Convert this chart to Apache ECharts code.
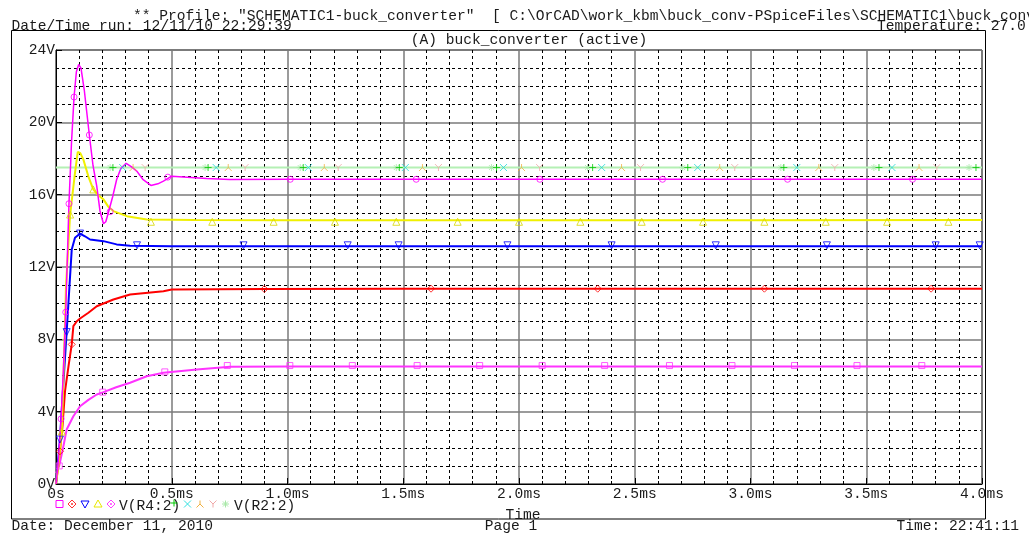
<!DOCTYPE html>
<html>
<head>
<meta charset="utf-8">
<title>buck_converter</title>
<script src="https://cdn.jsdelivr.net/npm/echarts@6/dist/echarts.min.js"></script>
<style>
  html, body { margin: 0; padding: 0; background: #fff; }
  #chart { width: 1029px; height: 536px; }
</style>
</head>
<body>
<div id="chart"></div>
<script>
// tick labels
var xTickLabels = ["0s", "0.5ms", "1.0ms", "1.5ms", "2.0ms", "2.5ms", "3.0ms", "3.5ms", "4.0ms"];
var yTickLabels = ["0V", "4V", "8V", "12V", "16V", "20V", "24V"];

// traces, [time ms, volts]
var traceMagentaHigh = [
  [0, 0], [0.01, 1.2], [0.022, 3.6], [0.032, 6.3], [0.042, 9.5], [0.056, 15.5], [0.067, 18.9],
  [0.078, 21.4], [0.088, 22.8], [0.098, 23.2], [0.108, 23.0], [0.122, 21.8], [0.144, 19.3],
  [0.16, 17.6], [0.176, 16.47], [0.19, 15.1], [0.205, 14.39], [0.215, 14.5], [0.226, 15.0],
  [0.245, 15.9], [0.262, 16.84], [0.28, 17.45], [0.303, 17.73], [0.325, 17.55], [0.349, 17.3],
  [0.375, 16.85], [0.41, 16.51], [0.44, 16.6], [0.464, 16.75], [0.5, 17.02], [0.55, 16.98],
  [0.65, 16.9], [0.75, 16.84], [1.0, 16.85], [2.0, 16.85], [3.0, 16.85], [4.0, 16.85]
];
var traceYellow = [
  [0, 0], [0.012, 1.2], [0.025, 2.9], [0.039, 8.9], [0.043, 10.9], [0.061, 14.9], [0.082, 17.2],
  [0.094, 18.37], [0.105, 18.3], [0.118, 17.95], [0.14, 17.0], [0.161, 16.29], [0.18, 16.0],
  [0.205, 15.74], [0.225, 15.35], [0.248, 15.09], [0.306, 14.81], [0.392, 14.63], [0.6, 14.6],
  [1.0, 14.58], [2.0, 14.58], [3.0, 14.58], [4.0, 14.6]
];
var traceBlue = [
  [0, 0], [0.017, 2.46], [0.03, 5.2], [0.046, 8.4], [0.058, 10.9], [0.068, 12.97], [0.082, 13.62],
  [0.104, 13.85], [0.125, 13.7], [0.147, 13.52], [0.205, 13.43], [0.262, 13.25], [0.32, 13.18],
  [0.5, 13.15], [1.0, 13.15], [2.0, 13.15], [3.0, 13.15], [4.0, 13.15]
];
var traceRed = [
  [0, 0], [0.017, 1.81], [0.028, 3.2], [0.039, 5.13], [0.055, 6.6], [0.068, 7.72], [0.075, 8.73],
  [0.09, 9.0], [0.104, 9.15], [0.14, 9.47], [0.176, 9.83], [0.248, 10.2], [0.32, 10.48],
  [0.464, 10.66], [0.5, 10.76], [0.9, 10.78], [1.5, 10.8], [4.0, 10.8]
];
var traceMagentaLow = [
  [0, 0.6], [0.014, 1.0], [0.032, 2.09], [0.046, 3.01], [0.075, 3.75], [0.104, 4.3], [0.14, 4.65],
  [0.176, 4.95], [0.205, 5.08], [0.26, 5.35], [0.32, 5.6], [0.392, 5.96], [0.464, 6.15],
  [0.608, 6.33], [0.752, 6.48], [1.0, 6.5], [2.0, 6.5], [3.0, 6.5], [4.0, 6.5]
];
var traceSupply = [[0, 17.5], [4.0, 17.5]];

// marker positions on each trace
var marksMagentaHigh = [
  [0.022, 3.6], [0.042, 9.5], [0.056, 15.5], [0.078, 21.4], [0.144, 19.3], [0.234, 15.06],
  [0.483, 16.97], [1.012, 16.85], [1.556, 16.85], [2.09, 16.85], [2.62, 16.85], [3.16, 16.85], [3.70, 16.85]
];
var marksYellow = [
  [0.025, 2.9], [0.061, 14.9], [0.161, 16.29], [0.41, 14.5], [0.675, 14.5], [0.94, 14.5], [1.205, 14.5],
  [1.47, 14.5], [1.735, 14.5], [2.0, 14.5], [2.265, 14.5], [2.53, 14.5], [2.795, 14.5], [3.06, 14.5],
  [3.325, 14.5], [3.59, 14.5], [3.855, 14.5]
];
var marksBlue = [
  [0.017, 2.46], [0.046, 8.4], [0.104, 13.85], [0.35, 13.2], [0.81, 13.2], [1.26, 13.2], [1.48, 13.2],
  [1.95, 13.2], [2.40, 13.2], [2.85, 13.2], [3.33, 13.2], [3.80, 13.2], [3.99, 13.2]
];
var marksRed = [
  [0.017, 1.81], [0.068, 7.72], [0.9, 10.78], [1.62, 10.8], [2.34, 10.8], [3.06, 10.8], [3.78, 10.8]
];
var marksMagentaLow = [
  [0.014, 1.0], [0.202, 5.08], [0.47, 6.2], [0.74, 6.55], [1.01, 6.55], [1.28, 6.55], [1.56, 6.55],
  [1.83, 6.55], [2.10, 6.55], [2.37, 6.55], [2.65, 6.55], [2.92, 6.55], [3.19, 6.55], [3.46, 6.55], [3.74, 6.55]
];
var marksGreen = [
  [0.246, 17.5], [0.657, 17.5], [1.068, 17.5], [1.483, 17.5], [1.903, 17.5], [2.318, 17.5],
  [2.729, 17.5], [3.144, 17.5], [3.555, 17.5], [3.974, 17.5]
];
var marksCyan = [
  [0.288, 17.5], [0.692, 17.5], [1.090, 17.5], [1.509, 17.5], [1.933, 17.5], [2.357, 17.5],
  [2.772, 17.5], [3.200, 17.5], [3.611, 17.5]
];
var marksOrange = [
  [0.333, 17.5], [0.744, 17.5], [1.159, 17.5], [1.583, 17.5], [2.011, 17.5], [2.443, 17.5],
  [2.867, 17.5], [3.295, 17.5], [3.728, 17.5]
];
var marksPink = [
  [0.385, 17.5], [0.817, 17.5], [1.219, 17.5], [1.652, 17.5], [2.089, 17.5], [2.525, 17.5],
  [2.932, 17.5], [3.364, 17.5], [3.805, 17.5]
];
var marksLightGreen = [
  [0.234, 17.5], [0.644, 17.5], [1.055, 17.5], [1.470, 17.5], [1.881, 17.5], [2.296, 17.5],
  [2.707, 17.5], [3.131, 17.5], [3.533, 17.5], [3.944, 17.5]
];

var FONT = '"Liberation Mono", "DejaVu Sans Mono", monospace';
var TXT = "#1a1a1a";

var PATH_CROSS = "path://M0,0L10,10M10,0L0,10";
var PATH_PLUS = "path://M5,0L5,10M0,5L10,5";
var PATH_YUP = "path://M5,0L5,5L0,10M5,5L10,10";
var PATH_Y = "path://M0,0L5,5L10,0M5,5L5,10";
var PATH_STAR = "path://M5,0L5,10M0,5L10,5M1.5,1.5L8.5,8.5M8.5,1.5L1.5,8.5";
var PATH_TRIDOWN = "path://M0,0L10,0L5,9Z";

function lineSeries(data, color, width) {
  return {
    type: "line",
    data: data,
    showSymbol: false,
    symbol: "none",
    lineStyle: { color: color, width: width },
    silent: true,
    animation: false
  };
}

function markSeries(data, symbol, color, size) {
  return {
    type: "scatter",
    data: data,
    symbol: symbol,
    symbolSize: size || 7,
    itemStyle: { color: "none", borderColor: color, borderWidth: 1 },
    silent: true,
    animation: false,
    z: 3
  };
}

function txt(str, x, y, align) {
  return {
    type: "text",
    x: x,
    y: y,
    style: {
      text: str,
      font: "14.6px " + FONT,
      fill: TXT,
      align: align || "left",
      textAlign: align || "left",
      verticalAlign: "middle",
      textVerticalAlign: "middle"
    }
  };
}

function seg(points, color) {
  return {
    type: "polyline",
    shape: { points: points },
    style: { stroke: color, fill: null, lineWidth: 1 }
  };
}

// small legend glyphs below the axis
function icon(kind, cx, cy, color) {
  var s = 3.5;
  if (kind === "rect") {
    return [{ type: "rect", shape: { x: cx - s, y: cy - s, width: 2 * s, height: 2 * s },
      style: { stroke: color, fill: null, lineWidth: 1 } }];
  }
  if (kind === "diamond") {
    return [{ type: "polygon", shape: { points: [[cx, cy - 4], [cx + 4, cy], [cx, cy + 4], [cx - 4, cy]] },
      style: { stroke: color, fill: null, lineWidth: 1 } },
      { type: "circle", shape: { cx: cx, cy: cy, r: 1 }, style: { fill: color } }];
  }
  if (kind === "tri") {
    return [{ type: "polygon", shape: { points: [[cx, cy - 4], [cx + 4, cy + 3], [cx - 4, cy + 3]] },
      style: { stroke: color, fill: null, lineWidth: 1 } }];
  }
  if (kind === "triDown") {
    return [{ type: "polygon", shape: { points: [[cx - 4, cy - 3], [cx + 4, cy - 3], [cx, cy + 4]] },
      style: { stroke: color, fill: null, lineWidth: 1 } }];
  }
  if (kind === "plus") {
    return [seg([[cx, cy - s], [cx, cy + s]], color), seg([[cx - s, cy], [cx + s, cy]], color)];
  }
  if (kind === "cross") {
    return [seg([[cx - s, cy - s], [cx + s, cy + s]], color), seg([[cx + s, cy - s], [cx - s, cy + s]], color)];
  }
  if (kind === "yUp") {
    return [seg([[cx, cy - s], [cx, cy], [cx - s, cy + s]], color), seg([[cx, cy], [cx + s, cy + s]], color)];
  }
  if (kind === "y") {
    return [seg([[cx - s, cy - s], [cx, cy], [cx + s, cy - s]], color), seg([[cx, cy], [cx, cy + s]], color)];
  }
  // star
  return [seg([[cx, cy - s], [cx, cy + s]], color), seg([[cx - s, cy], [cx + s, cy]], color),
    seg([[cx - 2.5, cy - 2.5], [cx + 2.5, cy + 2.5]], color), seg([[cx + 2.5, cy - 2.5], [cx - 2.5, cy + 2.5]], color)];
}

var legendY = 504;
var graphics = [
  { type: "rect", shape: { x: 11.5, y: 30.5, width: 974, height: 488.5 },
    style: { stroke: "#000", fill: null, lineWidth: 1 } },
  txt('** Profile: "SCHEMATIC1-buck_converter"  [ C:\\OrCAD\\work_kbm\\buck_conv-PSpiceFiles\\SCHEMATIC1\\buck_converter.sim ]', 133, 15.7),
  txt("Date/Time run: 12/11/10 22:29:39", 11.5, 25.7),
  txt("Temperature: 27.0", 877, 25.7),
  txt("(A) buck_converter (active)", 529, 40, "center"),
  txt("V(R4:2)", 119, 506),
  txt("V(R2:2)", 234, 506),
  txt("Time", 523, 515.5, "center"),
  txt("Date: December 11, 2010", 11.5, 526),
  txt("Page 1", 511, 526, "center"),
  txt("Time: 22:41:11", 1019, 526, "right")
];
graphics = graphics
  .concat(icon("rect", 59.5, legendY, "#ff00ff"))
  .concat(icon("diamond", 72, legendY, "#ff3030"))
  .concat(icon("triDown", 85, legendY, "#0000ff"))
  .concat(icon("tri", 98, legendY, "#e8e800"))
  .concat(icon("diamond", 111, legendY, "#ff40ff"))
  .concat(icon("plus", 174, legendY - 1, "#00c800"))
  .concat(icon("cross", 187.5, legendY, "#30e0e0"))
  .concat(icon("yUp", 200, legendY, "#f0b040"))
  .concat(icon("y", 213, legendY, "#f0a8a8"))
  .concat(icon("star", 225.5, legendY, "#a8e8a8"));

var chart = echarts.init(document.getElementById("chart"), null, { renderer: "canvas" });

var option = {
  backgroundColor: "#ffffff",
  animation: false,
  textStyle: { fontFamily: FONT },
  grid: {
    left: 56, right: 47, top: 50, bottom: 52,
    show: true, borderColor: "#000", borderWidth: 1, backgroundColor: "transparent"
  },
  xAxis: {
    type: "value",
    min: 0, max: 4, interval: 0.5,
    axisLine: { show: true, lineStyle: { color: "#000", width: 1 } },
    axisTick: { show: true, inside: true, length: 6, lineStyle: { color: "#000" } },
    minorTick: { show: true, splitNumber: 5, length: 3, lineStyle: { color: "#000" } },
    splitLine: { show: true, lineStyle: { color: "#7a7a7a", width: 1.5 } },
    minorSplitLine: { show: true, lineStyle: { color: "#000", width: 1, type: [3, 3] } },
    axisLabel: {
      margin: 3,
      color: TXT,
      fontFamily: FONT,
      fontSize: 14.6,
      formatter: function (v) { return xTickLabels[Math.round(v / 0.5)]; }
    }
  },
  yAxis: {
    type: "value",
    min: 0, max: 24, interval: 4,
    axisLine: { show: true, lineStyle: { color: "#000", width: 1 } },
    axisTick: { show: true, inside: true, length: 6, lineStyle: { color: "#000" } },
    minorTick: { show: true, splitNumber: 4, length: 3, lineStyle: { color: "#000" } },
    splitLine: { show: true, lineStyle: { color: "#7a7a7a", width: 1.5 } },
    minorSplitLine: { show: true, lineStyle: { color: "#000", width: 1, type: [3, 3] } },
    axisLabel: {
      margin: 1,
      color: TXT,
      fontFamily: FONT,
      fontSize: 14.6,
      formatter: function (v) { return yTickLabels[Math.round(v / 4)]; }
    }
  },
  graphic: { elements: graphics },
  series: [
    lineSeries(traceSupply, "#b4f0b4", 2),
    lineSeries(traceMagentaLow, "#ff33ff", 2),
    lineSeries(traceRed, "#ff0000", 2),
    lineSeries(traceBlue, "#0000ff", 2),
    lineSeries(traceYellow, "#f0f000", 2),
    lineSeries(traceMagentaHigh, "#ff00ff", 1.5),
    markSeries(marksMagentaLow, "rect", "#ff33ff", 6),
    markSeries(marksRed, "diamond", "#ff0000", 7),
    markSeries(marksBlue, PATH_TRIDOWN, "#0000ff", 7),
    markSeries(marksYellow, "triangle", "#d8d800", 7),
    markSeries(marksMagentaHigh, "circle", "#ff00ff", 6),
    markSeries(marksLightGreen, PATH_STAR, "#a8e8a8", 7),
    markSeries(marksGreen, PATH_PLUS, "#00c800", 7),
    markSeries(marksCyan, PATH_CROSS, "#20d8d8", 7),
    markSeries(marksOrange, PATH_YUP, "#f0b040", 7),
    markSeries(marksPink, PATH_Y, "#f0a8a8", 7)
  ]
};

chart.setOption(option);
</script>
</body>
</html>
